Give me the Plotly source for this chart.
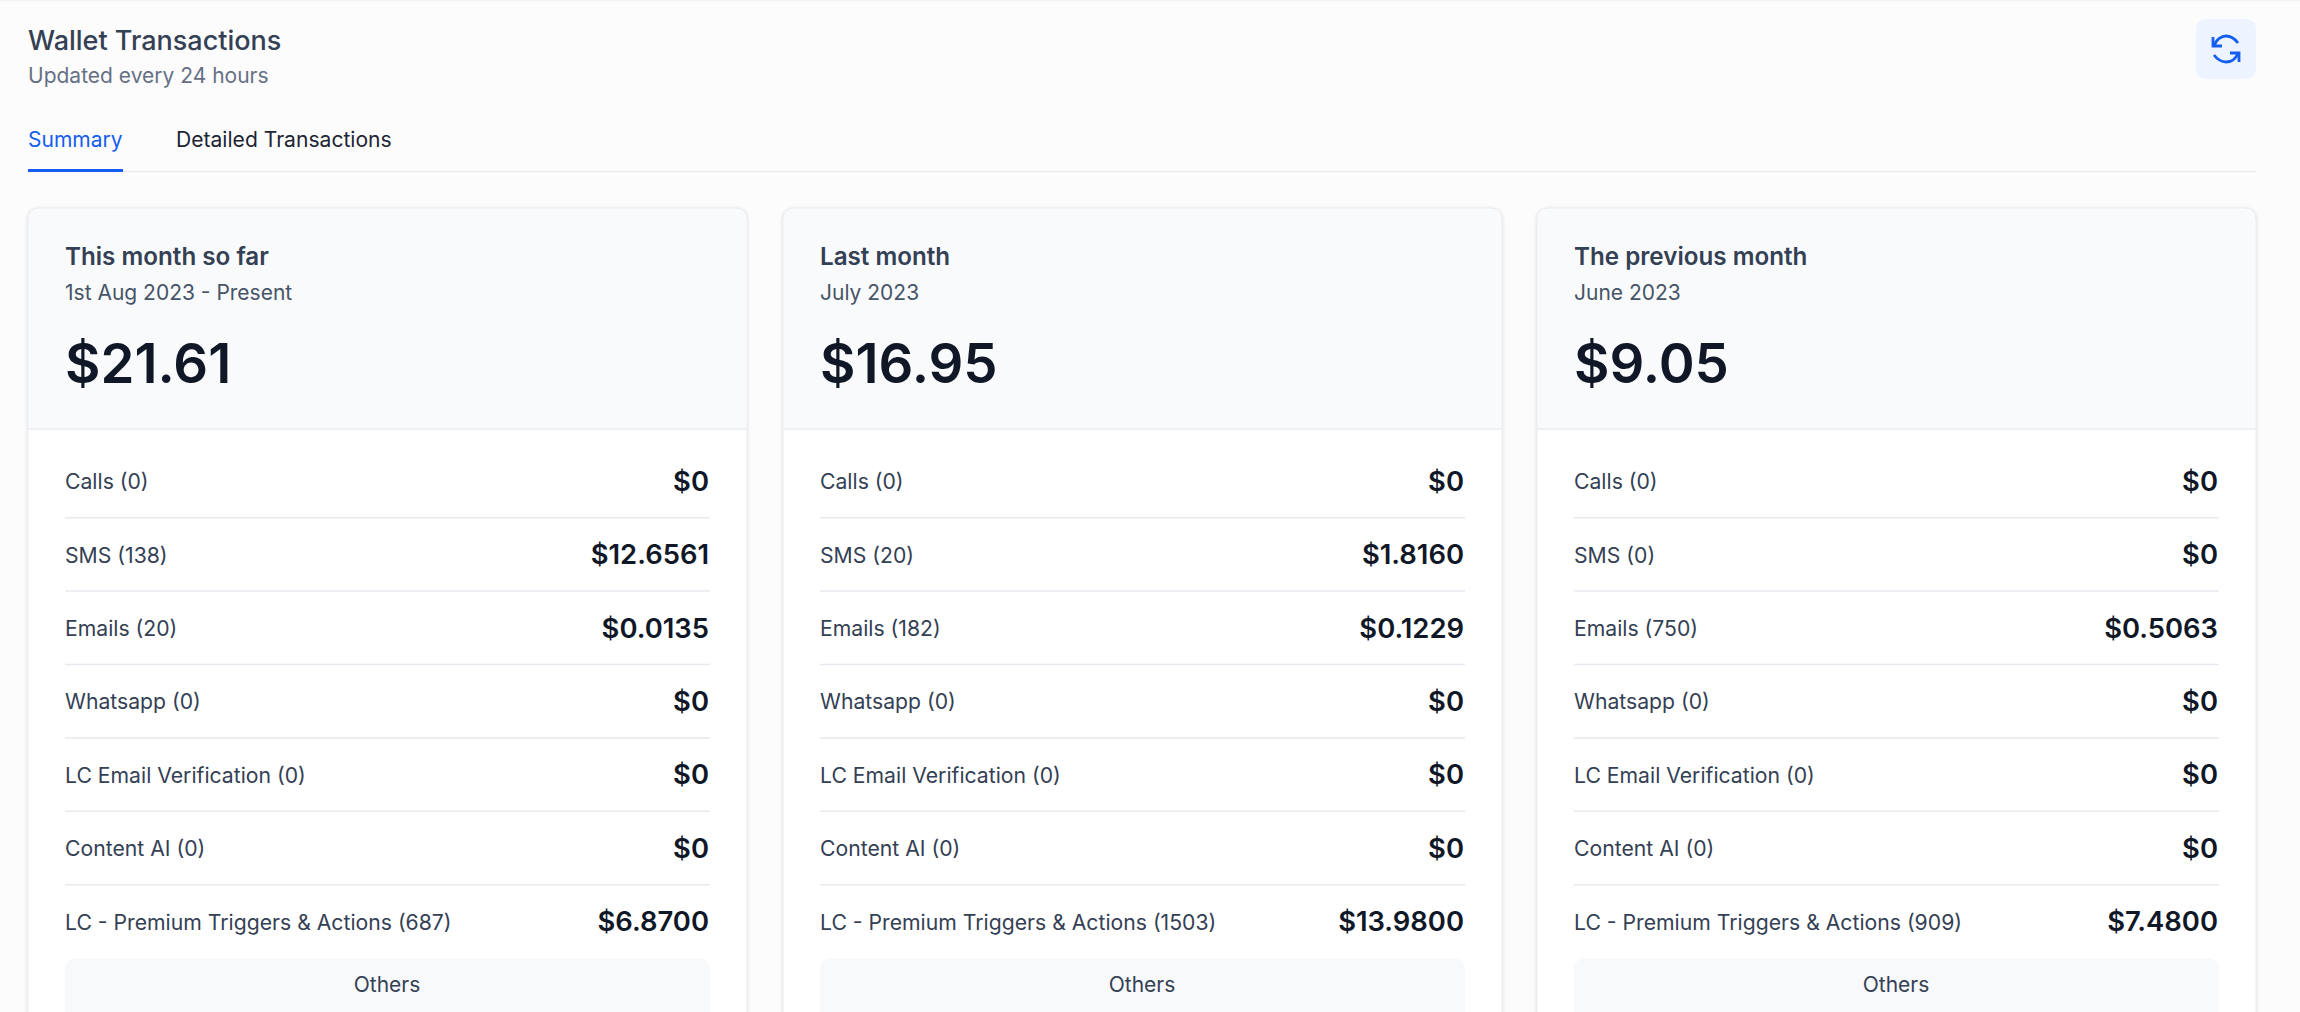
import plotly.graph_objects as go

W, H = 2300, 1012
FONT = "Inter"

# data
card_titles = ["This month so far", "Last month", "The previous month"]
card_periods = ["1st Aug 2023 - Present", "July 2023", "June 2023"]
card_totals = [21.61, 16.95, 9.05]
row_names = ["Calls", "SMS", "Emails", "Whatsapp", "LC Email Verification",
             "Content AI", "LC - Premium Triggers & Actions"]
counts_aug = [0, 138, 20, 0, 0, 0, 687]
counts_jul = [0, 20, 182, 0, 0, 0, 1503]
counts_jun = [0, 0, 750, 0, 0, 0, 909]
amounts_aug = [0, 12.6561, 0.0135, 0, 0, 0, 6.8700]
amounts_jul = [0, 1.8160, 0.1229, 0, 0, 0, 13.9800]
amounts_jun = [0, 0, 0.5063, 0, 0, 0, 7.4800]
card_counts = [counts_aug, counts_jul, counts_jun]
card_amounts = [amounts_aug, amounts_jul, amounts_jun]

card_left = [28, 783, 1537]
card_width = 719
card_top = 208
header_bottom = 429
row_y0 = 484
row_step = 73.4


def rrect(x0, y0, x1, y1, r, top_only=False):
    """rounded rectangle as svg path"""
    if top_only:
        return (f"M{x0},{y1} L{x0},{y0+r} Q{x0},{y0} {x0+r},{y0} L{x1-r},{y0} "
                f"Q{x1},{y0} {x1},{y0+r} L{x1},{y1} Z")
    return (f"M{x0+r},{y0} L{x1-r},{y0} Q{x1},{y0} {x1},{y0+r} L{x1},{y1-r} Q{x1},{y1} {x1-r},{y1} "
            f"L{x0+r},{y1} Q{x0},{y1} {x0},{y1-r} L{x0},{y0+r} Q{x0},{y0} {x0+r},{y0} Z")


def money(v):
    return f"${v:.4f}" if v else "$0"


shapes = []


def box(path, fill="rgba(0,0,0,0)", line="rgba(0,0,0,0)", lw=0):
    shapes.append(dict(type="path", path=path, fillcolor=fill, line=dict(color=line, width=lw), layer="below"))


def hline(x0, x1, y, color="#e7e9ee", lw=1.5):
    shapes.append(dict(type="line", x0=x0, x1=x1, y0=y, y1=y, line=dict(color=color, width=lw), layer="below"))


texts = []


def label(x, y, s, size, color, pos="middle right", weight=400):
    texts.append(dict(x=x, y=y, s=s, size=size, color=color, pos=pos, weight=weight))


# page header
hline(0, W, 0.5, "#f2f3f5", 2)
label(28, 43, "Wallet Transactions", 27, "#344054", weight=500)
label(28, 78, "Updated every 24 hours", 21, "#667085")
label(28, 142, "Summary", 21, "#155eef")
label(176, 142, "Detailed Transactions", 21.1, "#1d2433")
hline(28, 2256, 171.5, "#eaecf0", 1.5)
shapes.append(dict(type="rect", x0=28, x1=123, y0=169, y1=172, fillcolor="#155eef", line=dict(width=0), layer="below"))

# refresh button
box(rrect(2196, 19, 2256, 79, 11), fill="#eef4ff")
icon = "#155eef"
box("M2214,46 C2216,39 2222,36 2226,36 C2231,36 2235,39 2238,43", line=icon, lw=2.8)
box("M2238,53 C2236,59 2231,62 2226,62 C2221,62 2217,59 2214,55", line=icon, lw=2.8)
box("M2213,37 L2213,46 L2222,46", line=icon, lw=2.8)
box("M2239,62 L2239,53 L2230,53", line=icon, lw=2.8)

# cards
for i, left in enumerate(card_left):
    right = left + card_width
    for grow, alpha in [(4, 0.006), (3, 0.01), (2, 0.015), (1, 0.025)]:
        box(rrect(left - grow, card_top - grow + 1, right + grow, H + 20, 12 + grow), fill=f"rgba(16,24,40,{alpha})")
    box(rrect(left, card_top, right, H + 20, 12), fill="#ffffff", line="#eaecf0", lw=1)
    box(rrect(left + 1, card_top + 1, right - 1, header_bottom, 11, top_only=True), fill="#f9fafb")
    hline(left, right, header_bottom, "#eaecf0", 1.5)

    tx = left + 37
    vx = left + 681
    label(tx, 259, card_titles[i], 24.2, "#344054", weight=600)
    label(tx, 295, card_periods[i], 21, "#475467")
    label(tx, 369, f"${card_totals[i]:.2f}", 54.5, "#101828", weight=600)

    for j, name in enumerate(row_names):
        y = row_y0 + j * row_step
        label(tx, y, f"{name} ({card_counts[i][j]})", 21.2, "#344054")
        label(vx, y, money(card_amounts[i][j]), 27.4, "#101828", pos="middle left", weight=600)
        if j < len(row_names) - 1:
            hline(tx, vx + 1, row_y0 - 3 + (j + 0.5) * row_step, "#e7e9ee", 1.5)

    box(rrect(tx, 958, vx + 1, 1024, 13), fill="#f8f9fb")
    label((tx + vx) / 2, 987, "Others", 21, "#344054", pos="middle center")

fig = go.Figure()
for t in texts:
    fig.add_trace(go.Scatter(
        x=[t["x"]], y=[t["y"]], mode="text", text=[t["s"]], textposition=t["pos"],
        textfont=dict(family=FONT, size=t["size"], color=t["color"], weight=t["weight"]),
        hoverinfo="skip", showlegend=False,
    ))

fig.update_layout(
    width=W, height=H,
    margin=dict(l=0, r=0, t=0, b=0),
    paper_bgcolor="#fcfcfd", plot_bgcolor="#fcfcfd",
    shapes=shapes,
    xaxis=dict(range=[0, W], visible=False, fixedrange=True),
    yaxis=dict(range=[H, 0], visible=False, fixedrange=True),
    showlegend=False,
)

fig.write_html("out.html", config={"displayModeBar": False},
               post_script="document.body.style.margin='0';document.body.style.overflow='hidden';")
